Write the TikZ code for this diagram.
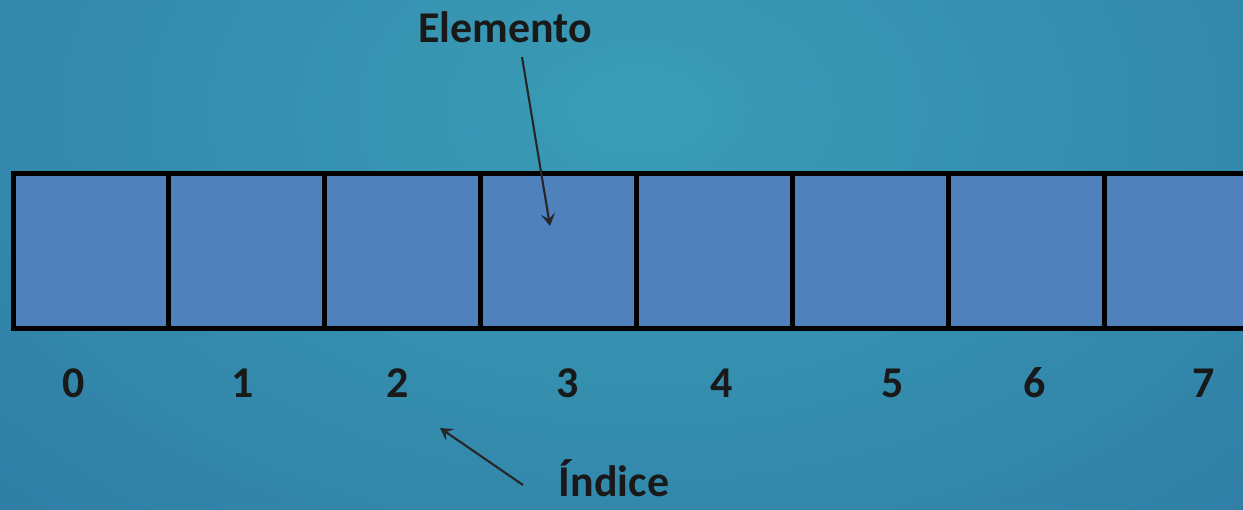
\documentclass[tikz,border=0pt]{standalone}
\usepackage{fontspec}
\setmainfont{Carlito}
\usepackage{xcolor}
\usetikzlibrary{positioning,arrows.meta}

\definecolor{bgcenter}{HTML}{3A9DB7}
\definecolor{bgedge}{HTML}{2A6E9C}
\definecolor{cellblue}{HTML}{4F81BD}

\begin{document}
\begin{tikzpicture}[x=0.02cm, y=-0.02cm, node distance=0pt, font=\fontsize{25}{30}\selectfont\bfseries]

    \tikzstyle{cell}=[draw=black, fill=cellblue, line width=0.1cm, minimum width=3.12cm, minimum height=3.1cm, inner sep=0pt, outer sep=0pt]
    \tikzstyle{idx}=[text=black!90, inner sep=0pt]
    \tikzstyle{pointer}=[-{Stealth[length=7pt, width=8pt, inset=3pt]}, line width=1.2pt, draw=black!85]

    % background
    \clip (0,0) rectangle (1243,510);
    \fill[bgedge] (0,0) rectangle (1243,510);
    \shade[inner color=bgcenter, outer color=bgedge] (640,110) ellipse [x radius=1400, y radius=900];

    % array cells
    \node[cell] (c0) at (91,251) {};
    \foreach \i [remember=\i as \last (initially 0)] in {1,...,7}
        \node[cell, right=of c\last] (c\i) {};

    % indices
    \foreach \i/\x in {0/74, 1/243, 2/398, 3/568, 4/722, 5/893, 6/1035, 7/1204}
        \node[idx] (l\i) at (\x,383) {\i};

    % labels
    \node[idx] (elemento) at (505,27) {Elemento};
    \node[idx, anchor=base] (indice) at (614,496) {Índice};

    \coordinate (elemtail) at (522,57);
    \coordinate (elemtip) at (550,226);
    \coordinate (indtail) at (523,485);
    \coordinate (indtip) at (440,428);

    \draw[pointer] (elemtail) -- (elemtip);
    \draw[pointer] (indtail) -- (indtip);

\end{tikzpicture}
\end{document}
